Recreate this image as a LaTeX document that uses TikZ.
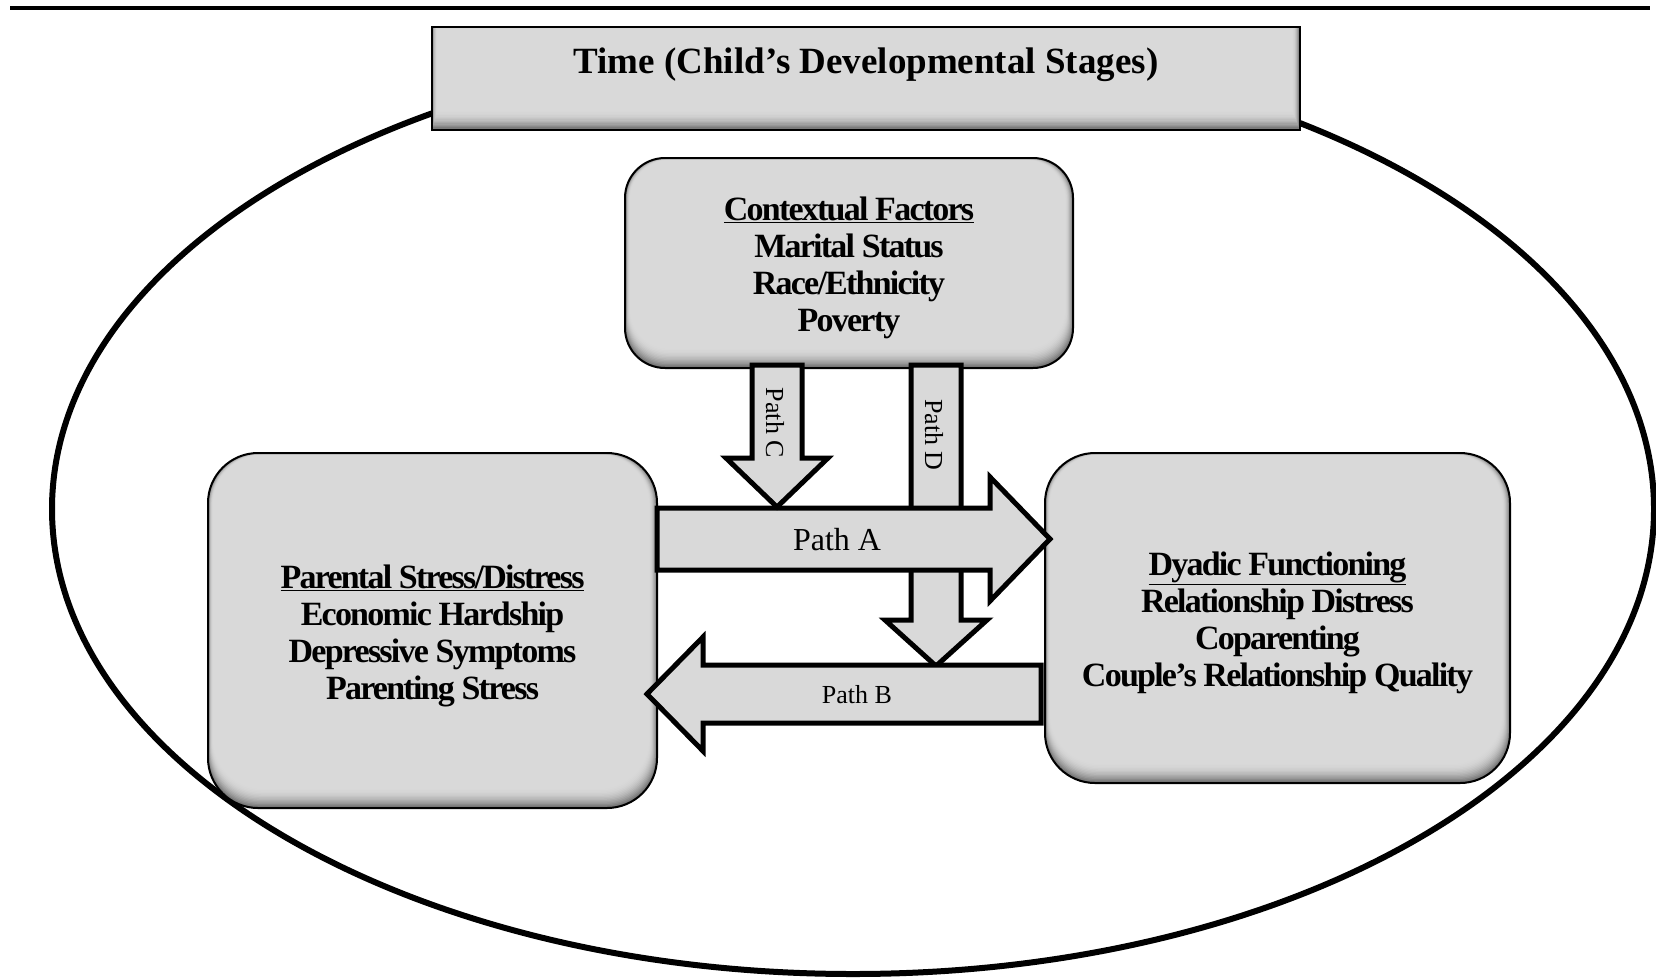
\documentclass[tikz,border=0pt]{standalone}
\usepackage{fontspec}
\setmainfont{Liberation Serif}
\newfontfamily\condserif[LetterSpace=-5.2]{Liberation Serif}

% inner shadow: stacked fills, darker towards the lower and right edges
\newcommand\shadedpanel[5]{%
  \foreach \k in {0,...,14}{%
    \pgfmathsetmacro\shadepct{15+42*(1-\k/14)^2}%
    \fill[black!\shadepct, #5]
      ({#1+0.35*\k},{#2+0.12*\k}) rectangle ({#3-0.55*\k},{#4-1.35*\k});
  }%
}

\begin{document}
\begin{tikzpicture}[x=1pt, y=-1pt,
  panel/.style={draw=black, line width=2pt, rounded corners=#1, inner sep=0pt},
  panel/.default=50pt,
  paneltext/.style={align=center, inner sep=0pt,
    font=\condserif\bfseries\fontsize{34}{37}\selectfont},
  blockarrow/.style={fill=black!15, draw=black, line width=5pt, miter limit=10},
  pathlabel/.style={inner sep=0pt, font=\fontsize{#1}{#1}\selectfont},
  pathlabel/.default=26,
]
\useasboundingbox (0,0) rectangle (1656,978);

% rule across the top
\draw[line width=4pt] (10,8) -- (1650,8);

% the time frame
\draw[line width=6pt] (853,509) ellipse [x radius=801pt, y radius=465pt];

\shadedpanel{432}{27}{1300}{130}{sharp corners}
\node[draw=black, line width=2pt, minimum width=868pt, minimum height=103pt, inner sep=0pt]
  (timebox) at (866,78.5) {};
\node[anchor=base, inner sep=0pt, font=\bfseries\fontsize{37}{40}\selectfont]
  (timelabel) at (866,73) {Time (Child’s Developmental Stages)};

% the three factor boxes
\shadedpanel{625}{158}{1073}{368}{rounded corners=40pt}
\node[panel=40pt, minimum width=448pt, minimum height=210pt] (context) at (849,263) {};
\node[paneltext] (contexttext) at ([yshift=-5pt]context.center)
  {\underline{Contextual Factors}\\Marital Status\\Race/Ethnicity\\Poverty};

\shadedpanel{208}{453}{657}{808}{rounded corners=50pt}
\node[panel, minimum width=449pt, minimum height=355pt] (stress) at (432.5,630.5) {};
\node[paneltext] (stresstext) at ([yshift=-5pt]stress.center)
  {\underline{Parental Stress/Distress}\\Economic Hardship\\Depressive Symptoms\\Parenting Stress};

\shadedpanel{1045}{453}{1510}{783}{rounded corners=50pt}
\node[panel, minimum width=465pt, minimum height=330pt] (dyadic) at (1277.5,618) {};
\node[paneltext] (dyadictext) at ([yshift=-5pt]dyadic.center)
  {\underline{Dyadic Functioning}\\Relationship Distress\\Coparenting\\Couple’s Relationship Quality};

% Path D: context to Path B (passes under Path A)
\draw[blockarrow] (911,365) -- (911,620) -- (885,620) -- (936,666) -- (987,620)
  -- (961,620) -- (961,365) -- cycle;
\node[pathlabel, rotate=-90] (labD) at (934,435) {Path D};

% Path B: dyadic functioning back to parental stress
\draw[blockarrow] (1041,665) -- (703,665) -- (703,637) -- (647,694) -- (703,751)
  -- (703,723) -- (1041,723) -- cycle;
\node[pathlabel] (labB) at (857,695) {Path B};

% Path A: parental stress to dyadic functioning
\draw[blockarrow] (657,508) -- (990,508) -- (990,477) -- (1050,539) -- (990,601)
  -- (990,570) -- (657,570) -- cycle;
\node[pathlabel=32] (labA) at (837,540) {Path A};

% Path C: context to Path A
\draw[blockarrow] (752,365) -- (752,458) -- (726,458) -- (777,507) -- (828,458)
  -- (802,458) -- (802,365) -- cycle;
\node[pathlabel, rotate=-90] (labC) at (775,423) {Path C};
\end{tikzpicture}
\end{document}
